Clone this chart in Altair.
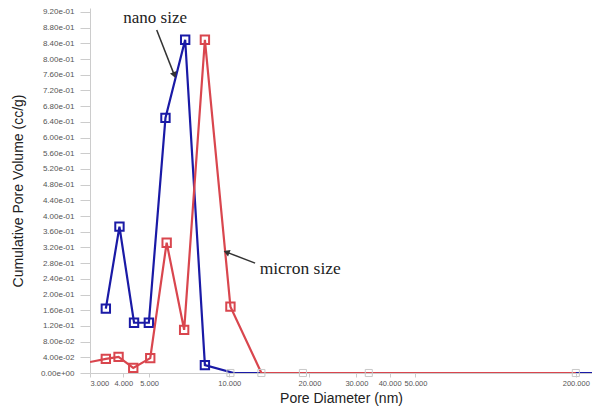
import altair as alt
import pandas as pd

# ---- data ----
nano_x = [3.44, 3.87, 4.39, 4.99, 5.76, 6.83, 8.1, 10.4, 230]
nano_y = [0.164, 0.373, 0.128, 0.128, 0.650, 0.849, 0.020, 0.0, 0.0]

micron_x = [3.0, 3.44, 3.84, 4.36, 5.05, 5.82, 6.77, 8.1, 10.1, 13.2, 200]
micron_y = [0.028, 0.036, 0.041, 0.013, 0.038, 0.332, 0.110, 0.849, 0.169, 0.0, 0.0]

gray_x = [10.1, 13.2, 18.9, 33.4, 200]
gray_y = [0.0, 0.0, 0.0, 0.0, 0.0]

x_ticks = [3, 4, 5, 10, 20, 30, 40, 50, 200]
y_ticks = [round(i * 0.04, 2) for i in range(24)]

ann_text = ["nano size", "micron size"]
ann_x = [5.27, 13.0]
ann_y = [0.891, 0.252]
arrow_x = [5.34, 12.5]
arrow_y = [0.874, 0.28]
arrow_x2 = [6.22, 9.76]
arrow_y2 = [0.759, 0.308]
arrow_angle = [160, 291]

BLUE = "#1a1aa6"
RED = "#d9464e"

nano = pd.DataFrame({"x": nano_x, "y": nano_y, "i": range(len(nano_x))})
micron = pd.DataFrame({"x": micron_x, "y": micron_y, "i": range(len(micron_x))})
gray = pd.DataFrame({"x": gray_x, "y": gray_y})
ann1 = pd.DataFrame({"t": ann_text[:1], "x": ann_x[:1], "y": ann_y[:1]})
ann2 = pd.DataFrame({"t": ann_text[1:], "x": ann_x[1:], "y": ann_y[1:]})
arr = pd.DataFrame({"x": arrow_x, "y": arrow_y, "x2": arrow_x2, "y2": arrow_y2})
heads_df = pd.DataFrame({"x": arrow_x2, "y": arrow_y2, "a": arrow_angle})

xscale = alt.Scale(type="log", domain=[3, 230], nice=False)
yscale = alt.Scale(domain=[0, 0.93], nice=False)

xaxis = alt.Axis(
    title="Pore Diameter (nm)", values=x_ticks, grid=False,
    labelExpr="format(datum.value, '.3f')",
    labelFont="Liberation Sans", labelFontSize=7.5, labelColor="#555",
    titleFont="Liberation Sans", titleFontSize=14, titleFontWeight="normal", titleColor="#222",
    titlePadding=5, domainColor="#ccc", tickColor="#ccc", tickSize=4, labelPadding=2,
    labelOverlap=False,
)
yaxis = alt.Axis(
    title="Cumulative Pore Volume (cc/g)", values=y_ticks, grid=False,
    labelExpr="replace(replace(replace(format(datum.value, '.2e'), 'e-1', 'e-01'), 'e-2', 'e-02'), 'e+0', 'e+00')",
    labelFont="Liberation Sans", labelFontSize=8, labelColor="#555",
    titleFont="Liberation Sans", titleFontSize=14, titleFontWeight="normal", titleColor="#222",
    titlePadding=15, domainColor="#ccc", tickColor="#ccc", tickSize=10, labelPadding=6,
    labelOverlap=False,
)

X = alt.X("x:Q", scale=xscale, axis=xaxis)
Y = alt.Y("y:Q", scale=yscale, axis=yaxis)

def series(df, color):
    line = alt.Chart(df).mark_line(color=color, strokeWidth=2.2, clip=True).encode(
        x=X, y=Y, order="i:Q")
    pts = alt.Chart(df).transform_filter("datum.x > 3.1 && datum.y > 0.001").mark_point(
        shape="square", size=70, filled=False, color=color, strokeWidth=2, opacity=1
    ).encode(x=X, y=Y)
    return line + pts

gray_pts = alt.Chart(gray).mark_point(
    shape="square", size=50, filled=False, color="#c8c8c8", strokeWidth=1, opacity=1
).encode(x=X, y=Y)

text1 = alt.Chart(ann1).mark_text(
    font="Liberation Serif", fontSize=17, color="#222", baseline="alphabetic", align="center"
).encode(x=X, y=Y, text="t:N")
text2 = alt.Chart(ann2).mark_text(
    font="Liberation Serif", fontSize=17.5, color="#222", baseline="alphabetic", align="left"
).encode(x=X, y=Y, text="t:N")

rules = alt.Chart(arr).mark_rule(color="#333", strokeWidth=1.5).encode(
    x=X, y=Y, x2="x2:Q", y2="y2:Q")
heads = alt.Chart(heads_df).mark_point(
    shape="triangle-up", size=50, filled=True, color="#333", opacity=1
).encode(x=X, y=Y, angle=alt.Angle("a:Q", scale=None))

chart = alt.layer(
    series(nano, BLUE), series(micron, RED), gray_pts, rules, heads, text1, text2
).properties(
    width=502, height=365,
    autosize=alt.AutoSizeParams(type="none"),
    padding={"left": 82, "top": 0, "right": 0, "bottom": 36},
    background="white",
).configure_view(stroke=None)

chart.save("out.html", embed_options={"renderer": "svg", "actions": False})
